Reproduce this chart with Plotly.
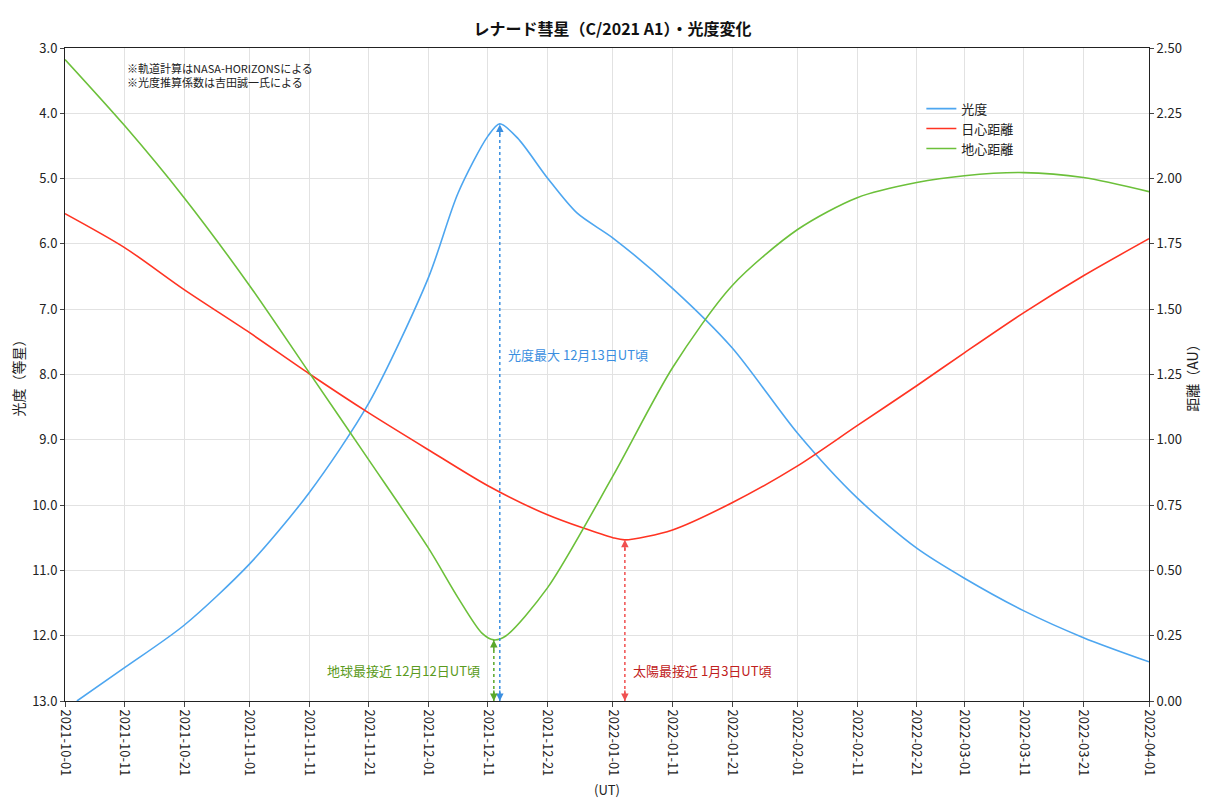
import plotly.graph_objects as go

mag_dates = ["2021-10-03","2021-10-11","2021-10-21","2021-11-01","2021-11-11","2021-11-21","2021-12-01","2021-12-06","2021-12-11","2021-12-13","2021-12-16","2021-12-21","2021-12-26","2022-01-01","2022-01-11","2022-01-21","2022-02-01","2022-02-11","2022-02-21","2022-03-01","2022-03-11","2022-03-21","2022-04-01"]
mag_vals = [13.0,12.49,11.84,10.90,9.81,8.44,6.52,5.22,4.35,4.16,4.38,4.99,5.53,5.91,6.68,7.59,8.90,9.89,10.66,11.12,11.62,12.03,12.40]

sun_dates = ["2021-10-01","2021-10-11","2021-10-21","2021-11-01","2021-11-11","2021-11-21","2021-12-01","2021-12-11","2021-12-21","2022-01-01","2022-01-03","2022-01-11","2022-01-21","2022-02-01","2022-02-11","2022-02-21","2022-03-01","2022-03-11","2022-03-21","2022-04-01"]
sun_vals = [1.866,1.736,1.575,1.41,1.253,1.103,0.962,0.824,0.713,0.625,0.617,0.655,0.759,0.90,1.054,1.207,1.333,1.487,1.628,1.77]

earth_dates = ["2021-10-01","2021-10-11","2021-10-21","2021-11-01","2021-11-11","2021-11-21","2021-12-01","2021-12-06","2021-12-10","2021-12-12","2021-12-14","2021-12-21","2022-01-01","2022-01-11","2022-01-21","2022-02-01","2022-02-11","2022-02-21","2022-03-01","2022-03-11","2022-03-21","2022-04-01"]
earth_vals = [2.456,2.203,1.927,1.59,1.257,0.923,0.586,0.395,0.26,0.234,0.249,0.433,0.862,1.276,1.59,1.805,1.927,1.985,2.011,2.023,2.004,1.95]

tick_vals = ["2021-10-01","2021-10-11","2021-10-21","2021-11-01","2021-11-11","2021-11-21","2021-12-01","2021-12-11","2021-12-21","2022-01-01","2022-01-11","2022-01-21","2022-02-01","2022-02-11","2022-02-21","2022-03-01","2022-03-11","2022-03-21","2022-04-01"]

BLUE, RED, GREEN = "#4da6f0", "#ff3322", "#6cc03a"
FONT = "Noto Sans CJK JP"

fig = go.Figure()
fig.add_trace(go.Scatter(x=mag_dates, y=mag_vals, name="光度", mode="lines",
                         line=dict(color=BLUE, width=1.6, shape="spline", smoothing=0.8), yaxis="y"))
fig.add_trace(go.Scatter(x=sun_dates, y=sun_vals, name="日心距離", mode="lines",
                         line=dict(color=RED, width=1.6, shape="spline", smoothing=0.8), yaxis="y2"))
fig.add_trace(go.Scatter(x=earth_dates, y=earth_vals, name="地心距離", mode="lines",
                         line=dict(color=GREEN, width=1.6, shape="spline", smoothing=0.8), yaxis="y2"))

def vmark(date, ytop, color):
    fig.add_shape(type="line", x0=date, x1=date, y0=0, y1=ytop, xref="x", yref="y2",
                  line=dict(color=color, width=1.5, dash="dot"))
    fig.add_annotation(x=date, y=ytop, xref="x", yref="y2", showarrow=True, ax=0, ay=12,
                       arrowhead=2, arrowsize=1, arrowwidth=1.5, arrowcolor=color, text="")
    fig.add_annotation(x=date, y=0, xref="x", yref="y2", showarrow=True, ax=0, ay=-12,
                       arrowhead=2, arrowsize=1, arrowwidth=1.5, arrowcolor=color, text="")

vmark("2021-12-13", 2.207, "#3a8ee0")
vmark("2021-12-12", 0.234, "#5aa82a")
vmark("2022-01-03", 0.617, "#f05050")

fig.add_annotation(x="2021-12-14", y=7.7, xref="x", yref="y", text="光度最大 12月13日UT頃",
                   showarrow=False, xanchor="left", font=dict(color="#3a8ee0", size=13))
fig.add_annotation(x="2021-12-10", y=0.115, xref="x", yref="y2", text="地球最接近 12月12日UT頃",
                   showarrow=False, xanchor="right", font=dict(color="#5a9a20", size=13))
fig.add_annotation(x="2022-01-04", y=0.115, xref="x", yref="y2", text="太陽最接近 1月3日UT頃",
                   showarrow=False, xanchor="left", font=dict(color="#c02020", size=13))
fig.add_annotation(x=0.055, y=0.985, xref="paper", yref="paper", xanchor="left", yanchor="top",
                   text="※軌道計算はNASA-HORIZONSによる<br>※光度推算係数は吉田誠一氏による",
                   showarrow=False, align="left", font=dict(size=11, color="#222"))

fig.update_layout(
    width=1209, height=806, plot_bgcolor="white", paper_bgcolor="white",
    font=dict(family=FONT, size=12, color="#222"),
    margin=dict(l=57, r=68, t=40, b=113, autoexpand=False),
    title=dict(text="<b>レナード彗星（C/2021 A1）・光度変化</b>", x=0.5, y=0.98, xanchor="center",
               font=dict(size=16, color="#111"), automargin=False),
    xaxis=dict(type="date", range=["2021-10-01", "2022-04-01"], tickvals=tick_vals,
               ticktext=tick_vals, tickangle=90, showgrid=True, gridcolor="#e2e2e2",
               showline=True, linecolor="#222", mirror=True, ticks="outside", ticklen=5,
               automargin=False,
               title=dict(text="(UT)", font=dict(size=13), standoff=10), tickfont=dict(size=13)),
    yaxis=dict(range=[13, 3], dtick=1, tickformat=".1f", showgrid=True, gridcolor="#e2e2e2",
               showline=True, linecolor="#222", ticks="outside", ticklen=4, zeroline=False,
               automargin=False,
               title=dict(text="光度（等星）", standoff=6), tickfont=dict(size=13)),
    yaxis2=dict(range=[0, 2.5], dtick=0.25, tickformat=".2f", overlaying="y", side="right",
                showgrid=False, showline=True, linecolor="#222", ticks="outside", ticklen=4,
                zeroline=False, automargin=False,
                title=dict(text="距離（AU）", standoff=6), tickfont=dict(size=13)),
    legend=dict(x=0.79, y=0.93, xanchor="left", yanchor="top", bgcolor="rgba(255,255,255,0)",
                font=dict(size=13), tracegroupgap=0, itemwidth=30),
    showlegend=True,
)
fig.write_html("out.html")
